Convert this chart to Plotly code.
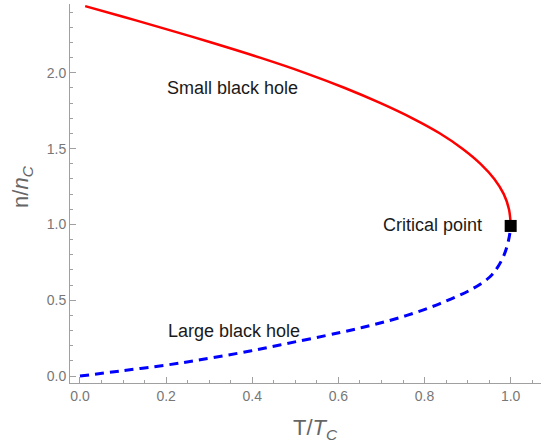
import plotly.graph_objects as go

# Small black hole branch (red, solid)
T_small = [0.012, 0.10, 0.186, 0.305, 0.418, 0.522, 0.615, 0.698, 0.772, 0.836, 0.888, 0.930, 0.962, 0.984, 0.996, 1.0]
n_small = [2.44, 2.37, 2.30, 2.20, 2.10, 2.00, 1.90, 1.80, 1.70, 1.60, 1.50, 1.40, 1.30, 1.20, 1.10, 1.00]

# Large black hole branch (blue, dashed)
T_large = [0.0, 0.093, 0.2, 0.279, 0.395, 0.464, 0.604, 0.681, 0.759, 0.836, 0.913, 0.952, 0.968, 0.983, 0.992, 0.998, 1.0]
n_large = [0.0, 0.033, 0.072, 0.107, 0.165, 0.205, 0.287, 0.338, 0.40, 0.478, 0.578, 0.655, 0.71, 0.787, 0.86, 0.94, 1.0]

# Critical point
T_crit = [1.0]
n_crit = [0.99]

x_ticks = [0.0, 0.2, 0.4, 0.6, 0.8, 1.0]
y_ticks = [0.0, 0.5, 1.0, 1.5, 2.0]

labels = ["Small black hole", "Large black hole", "Critical point"]
label_T = [0.355, 0.358, 0.818]
label_n = [1.90, 0.299, 0.996]

FONT = "Liberation Sans, Arial, sans-serif"

fig = go.Figure()
fig.add_trace(go.Scatter(x=T_small, y=n_small, mode="lines",
                         line=dict(color="#ff0000", width=2.5, shape="spline", smoothing=1.0),
                         showlegend=False, hoverinfo="skip"))
fig.add_trace(go.Scatter(x=T_large, y=n_large, mode="lines",
                         line=dict(color="#0000ff", width=3, dash="9px,6px", shape="spline", smoothing=1.0),
                         showlegend=False, hoverinfo="skip"))
fig.add_trace(go.Scatter(x=T_crit, y=n_crit, mode="markers",
                         marker=dict(symbol="square", size=12, color="black"),
                         showlegend=False, cliponaxis=False))

for txt, tx, ny in zip(labels, label_T, label_n):
    fig.add_annotation(x=tx, y=ny, text=txt, showarrow=False,
                       font=dict(family=FONT, size=18, color="#1a1a1a"),
                       xanchor="center", yanchor="middle")

# Axis titles as annotations (placed as in the reference)
fig.add_annotation(x=0.522, y=-0.121, xref="paper", yref="paper",
                   text="T/<i>T</i><sub><i>C</i></sub>", showarrow=False,
                   font=dict(family=FONT, size=22, color="#666666"),
                   xanchor="center", yanchor="middle")
fig.add_annotation(x=-0.102, y=0.52, xref="paper", yref="paper",
                   text="n/<i>n</i><sub><i>C</i></sub>", showarrow=False, textangle=-90,
                   font=dict(family=FONT, size=22, color="#666666"),
                   xanchor="center", yanchor="middle")

axis_common = dict(showline=True, linecolor="#a0a0a0", linewidth=1,
                   showgrid=False, zeroline=False, ticks="inside", ticklen=6,
                   tickcolor="#a0a0a0", tickwidth=1,
                   tickfont=dict(family=FONT, size=14, color="#777777"),
                   tickformat=".1f", mirror=False)

fig.update_xaxes(range=[-0.0232, 1.0704], tickvals=x_ticks,
                 minor=dict(dtick=0.05, ticks="inside", ticklen=3, tickcolor="#a0a0a0"),
                 **axis_common)
fig.update_yaxes(range=[-0.046, 2.454], tickvals=y_ticks,
                 minor=dict(dtick=0.1, tick0=0, ticks="inside", ticklen=3, tickcolor="#a0a0a0"),
                 **axis_common)

fig.update_layout(width=541, height=445, margin=dict(l=70, r=0, t=4, b=62),
                  plot_bgcolor="white", paper_bgcolor="white",
                  font=dict(family=FONT))

fig.write_html("out.html")
